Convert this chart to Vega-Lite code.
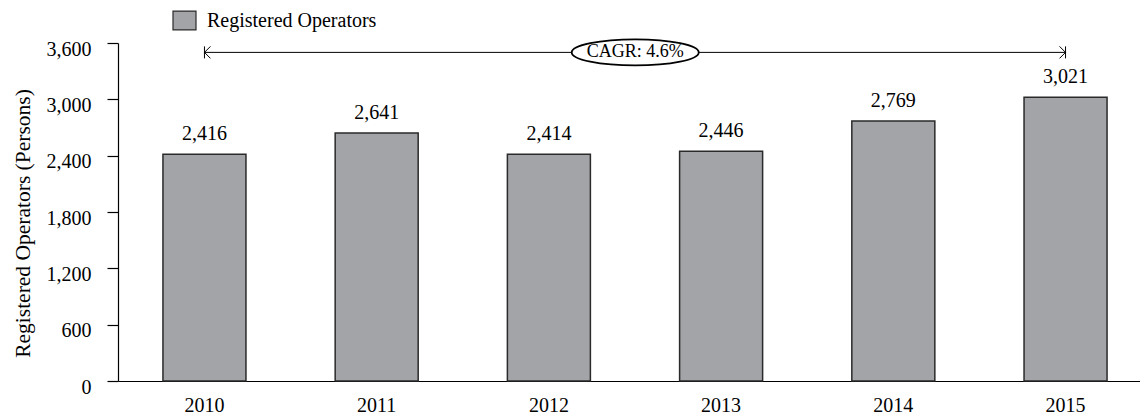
{
  "$schema": "https://vega.github.io/schema/vega-lite/v6.json",
  "width": 1034,
  "height": 338,
  "autosize": {"type": "none"},
  "padding": {"left": 118, "top": 43, "right": 0, "bottom": 35},
  "background": "white",
  "config": {
    "font": "Liberation Serif",
    "view": {"stroke": null},
    "axis": {"labelColor": "black", "titleColor": "black", "domainColor": "black", "tickColor": "black", "grid": false, "labelFont": "Liberation Serif", "titleFont": "Liberation Serif"},
    "legend": {"labelFont": "Liberation Serif"}
  },
  "datasets": {
    "ops": [
      {"year": "2010", "value": 2416, "series": "Registered Operators"},
      {"year": "2011", "value": 2641, "series": "Registered Operators"},
      {"year": "2012", "value": 2414, "series": "Registered Operators"},
      {"year": "2013", "value": 2446, "series": "Registered Operators"},
      {"year": "2014", "value": 2769, "series": "Registered Operators"},
      {"year": "2015", "value": 3021, "series": "Registered Operators"}
    ],
    "arrow": [
      {"year": "2010", "value": 3500},
      {"year": "2015", "value": 3500}
    ],
    "arrowStart": [{"year": "2010", "value": 3500}],
    "arrowEnd": [{"year": "2015", "value": 3500}],
    "cagr": [{"year": "2012", "value": 3500, "label": "CAGR: 4.6%"}]
  },
  "layer": [
    {
      "data": {"name": "ops"},
      "mark": {"type": "bar", "stroke": "#2a2a2a", "strokeWidth": 1.5},
      "encoding": {
        "x": {
          "field": "year", "type": "ordinal",
          "scale": {"paddingInner": 0.518, "paddingOuter": 0.261},
          "axis": {"title": null, "ticks": false, "labelAngle": 0, "labelPadding": 14, "labelFontSize": 20, "domainWidth": 1.2}
        },
        "y": {
          "field": "value", "type": "quantitative",
          "scale": {"domain": [0, 3600], "nice": false, "zero": true},
          "axis": {"title": "Registered Operators (Persons)", "values": [0, 600, 1200, 1800, 2400, 3000, 3600], "format": ",d", "tickSize": 11, "labelPadding": 16, "labelOffset": 6, "labelFontSize": 20, "titleFontSize": 21.5, "titleFontWeight": "normal", "titlePadding": 12, "titleY": 180, "domainWidth": 1.2, "tickWidth": 1.2}
        },
        "color": {
          "field": "series", "type": "nominal",
          "scale": {"range": ["#a3a4a8"]},
          "legend": {"title": null, "orient": "none", "legendX": 54, "legendY": -35, "padding": 0, "symbolType": "M-1,-0.82H1V0.82H-1Z", "symbolSize": 529, "symbolStrokeColor": "#2a2a2a", "symbolStrokeWidth": 1.2, "symbolOpacity": 1, "labelFontSize": 20, "labelOffset": 10, "labelLimit": 400, "labelColor": "black"}
        }
      }
    },
    {
      "data": {"name": "ops"},
      "mark": {"type": "text", "dy": -14, "baseline": "alphabetic", "fontSize": 20, "color": "black"},
      "encoding": {
        "x": {"field": "year", "type": "ordinal"},
        "y": {"field": "value", "type": "quantitative"},
        "text": {"field": "value", "type": "quantitative", "format": ","}
      }
    },
    {
      "data": {"name": "arrow"},
      "mark": {"type": "line", "color": "black", "strokeWidth": 1},
      "encoding": {
        "x": {"field": "year", "type": "ordinal"},
        "y": {"field": "value", "type": "quantitative"}
      }
    },
    {
      "data": {"name": "arrowStart"},
      "mark": {"type": "point", "shape": "M0,-1L0,1M1,-1L0,0L1,1", "size": 144, "filled": false, "stroke": "black", "strokeWidth": 1, "opacity": 1},
      "encoding": {
        "x": {"field": "year", "type": "ordinal"},
        "y": {"field": "value", "type": "quantitative"}
      }
    },
    {
      "data": {"name": "arrowEnd"},
      "mark": {"type": "point", "shape": "M0,-1L0,1M-1,-1L0,0L-1,1", "size": 144, "filled": false, "stroke": "black", "strokeWidth": 1, "opacity": 1},
      "encoding": {
        "x": {"field": "year", "type": "ordinal"},
        "y": {"field": "value", "type": "quantitative"}
      }
    },
    {
      "data": {"name": "cagr"},
      "mark": {"type": "point", "shape": "M-1,0A1,0.205,0,1,1,1,0A1,0.205,0,1,1,-1,0Z", "size": 16129, "filled": true, "fill": "white", "stroke": "black", "strokeWidth": 1.8, "opacity": 1},
      "encoding": {
        "x": {"field": "year", "type": "ordinal", "bandPosition": 1.54},
        "y": {"field": "value", "type": "quantitative"}
      }
    },
    {
      "data": {"name": "cagr"},
      "mark": {"type": "text", "fontSize": 18, "color": "black", "baseline": "middle"},
      "encoding": {
        "x": {"field": "year", "type": "ordinal", "bandPosition": 1.54},
        "y": {"field": "value", "type": "quantitative"},
        "text": {"field": "label"}
      }
    }
  ]
}
